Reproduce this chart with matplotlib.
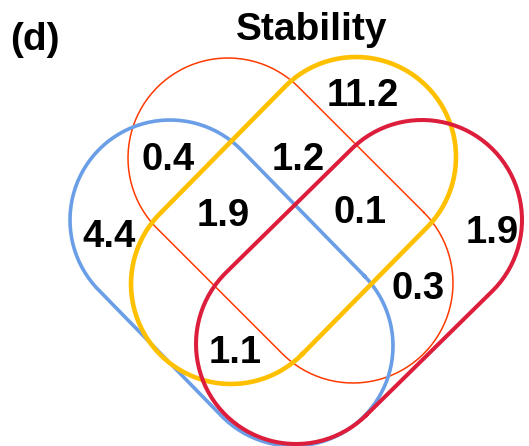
import numpy as np
import matplotlib.pyplot as plt

plt.rcParams['font.family'] = ['Liberation Sans', 'DejaVu Sans']

# region values of the 4-set diagram (%)
region_values = ['11.2', '0.4', '1.2', '1.9', '0.1', '4.4', '1.9', '0.3', '1.1']
title = 'Stability'
panel_label = '(d)'

# capsule outlines: two end-circle centres, radius, colour, line width
sets = [
    ((228, 158), (353, 283), 100, '#FF3A00', 1.1),
    ((170, 220), (293, 346), 100, '#6A9EE6', 2.6),
    ((356, 157), (231, 284), 100, '#FFC000', 3.3),
    ((422, 220), (296, 344), 100, '#DC1E3C', 2.9),
]

# where each value sits
label_pos = [(363, 96), (168, 160), (298, 160), (223, 216), (360, 213),
             (109, 237), (492, 233), (418, 289), (235, 353)]


def capsule(c1, c2, r, n=100):
    c1 = np.asarray(c1, float)
    c2 = np.asarray(c2, float)
    d = c2 - c1
    a = np.arctan2(d[1], d[0])
    t2 = np.linspace(a - np.pi / 2, a + np.pi / 2, n)
    t1 = np.linspace(a + np.pi / 2, a + 3 * np.pi / 2, n)
    p2 = c2 + r * np.column_stack([np.cos(t2), np.sin(t2)])
    p1 = c1 + r * np.column_stack([np.cos(t1), np.sin(t1)])
    pts = np.vstack([p2, p1, p2[:1]])
    return pts[:, 0], pts[:, 1]


fig = plt.figure(figsize=(5.29, 4.46), dpi=100)
ax = fig.add_axes([0, 0, 1, 1])
ax.set_xlim(0, 529)
ax.set_ylim(446, 0)
ax.set_aspect('equal')
ax.axis('off')

for c1, c2, r, col, lw in sets:
    x, y = capsule(c1, c2, r)
    ax.plot(x, y, color=col, linewidth=lw, solid_joinstyle='round')

for txt, (x, y) in zip(region_values, label_pos):
    ax.text(x, y, txt, fontsize=27.5, fontweight='bold', ha='center', va='center')

ax.text(312, 30, title, fontsize=28, fontweight='bold', ha='center', va='center')
ax.text(10, 40, panel_label, fontsize=28, fontweight='bold', ha='left', va='center')

fig.savefig('out.png', dpi=100)
